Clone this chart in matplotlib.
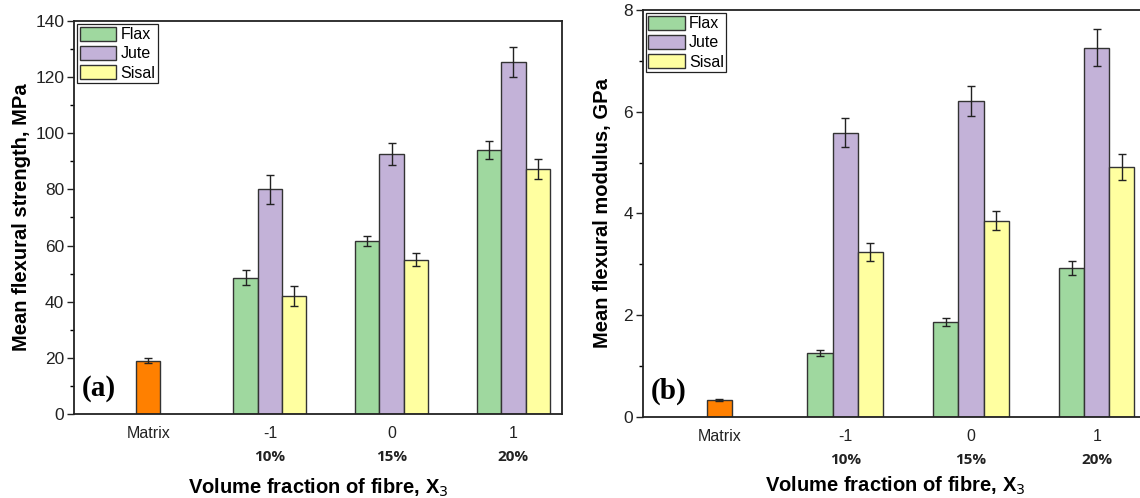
import matplotlib
matplotlib.use('Agg')
import matplotlib.pyplot as plt
from matplotlib import transforms
import numpy as np

plt.rcParams['font.family'] = ['Liberation Sans', 'DejaVu Sans']

# categories on the x axis
tick_labels = ['Matrix', '-1', '0', '1']
pct_labels = ['10%', '15%', '20%']
fibres = ['Flax', 'Jute', 'Sisal']
fibre_colors = ['#9FD89F', '#C3B2D8', '#FFFFA0']
matrix_color = '#FF8000'

# (a) flexural strength, MPa
strength_matrix = 19.0
strength_matrix_err = 1.0
strength_flax = [48.5, 61.6, 94.0]
strength_flax_err = [2.7, 1.7, 3.1]
strength_jute = [80.0, 92.7, 125.3]
strength_jute_err = [5.1, 3.9, 5.3]
strength_sisal = [42.0, 55.0, 87.3]
strength_sisal_err = [3.5, 2.4, 3.6]

# (b) flexural modulus, GPa
modulus_matrix = 0.33
modulus_matrix_err = 0.02
modulus_flax = [1.25, 1.87, 2.93]
modulus_flax_err = [0.06, 0.08, 0.14]
modulus_jute = [5.59, 6.21, 7.26]
modulus_jute_err = [0.28, 0.30, 0.36]
modulus_sisal = [3.24, 3.86, 4.91]
modulus_sisal_err = [0.17, 0.19, 0.25]

W = 0.2
err_kw = dict(ecolor='#222222', elinewidth=1.0, capsize=3, capthick=1.0)


def panel(ax, matrix, matrix_err, groups, group_errs, ymax, ymajor, yminor, ylabel, tag):
    ax.bar(0, matrix, W, yerr=matrix_err, color=matrix_color,
           edgecolor='#333333', linewidth=1.0, error_kw=err_kw, zorder=2)
    gx = np.arange(1, 4)
    for i, (vals, errs) in enumerate(zip(groups, group_errs)):
        ax.bar(gx + (i - 1) * W, vals, W, yerr=errs, color=fibre_colors[i],
               edgecolor='#333333', linewidth=1.0, error_kw=err_kw,
               label=fibres[i], zorder=2)

    ax.set_xlim(-0.61, 3.40)
    ax.set_ylim(0, ymax)
    ax.set_yticks(np.arange(0, ymax + ymajor / 2, ymajor))
    ax.set_yticks(np.arange(0, ymax + yminor / 2, yminor), minor=True)
    ax.set_xticks(range(4))
    ax.set_xticklabels(tick_labels)
    ax.tick_params(axis='x', length=0, pad=9, labelsize=11.5, colors='#222222')
    ax.tick_params(axis='y', which='major', direction='out', length=5,
                   width=1.0, labelsize=12.5, pad=2, colors='#222222')
    ax.tick_params(axis='y', which='minor', direction='out', length=3, width=1.0)
    for sp in ax.spines.values():
        sp.set_linewidth(1.3)
        sp.set_color('#222222')

    # second row of x labels: fibre volume fraction
    trans = transforms.blended_transform_factory(ax.transData, ax.transAxes)
    for x, t in zip(gx, pct_labels):
        ax.annotate(t, xy=(x, 0), xycoords=trans, xytext=(0, -31),
                    textcoords='offset points', ha='center', va='center',
                    fontsize=11, fontweight='bold', family='Open Sans',
                    color='#222222')

    ax.set_xlabel('Volume fraction of fibre, X$_3$', fontsize=14.5,
                  fontweight='bold')
    ax.set_ylabel(ylabel, fontsize=14.5, fontweight='bold')

    ax.text(0.016, 0.03, tag, transform=ax.transAxes, family='Liberation Serif',
            fontsize=21, fontweight='bold', ha='left', va='bottom')

    leg = ax.legend(loc='upper left', bbox_to_anchor=(0.0, 1.0), fontsize=11.5,
                    frameon=True, fancybox=False, framealpha=1, edgecolor='#222222',
                    handlelength=2.3, handleheight=1.05, labelspacing=0.2,
                    borderpad=0.15, handletextpad=0.25, borderaxespad=0.2)
    leg.get_frame().set_linewidth(0.9)


fig = plt.figure(figsize=(11.4, 4.98), dpi=100)
ax1 = fig.add_axes([0.0649, 0.1687, 0.4281, 0.7892])
ax2 = fig.add_axes([0.5638, 0.1627, 0.4424, 0.8173])

panel(ax1, strength_matrix, strength_matrix_err,
      [strength_flax, strength_jute, strength_sisal],
      [strength_flax_err, strength_jute_err, strength_sisal_err],
      140, 20, 10, 'Mean flexural strength, MPa', '(a)')
panel(ax2, modulus_matrix, modulus_matrix_err,
      [modulus_flax, modulus_jute, modulus_sisal],
      [modulus_flax_err, modulus_jute_err, modulus_sisal_err],
      8, 2, 1, 'Mean flexural modulus, GPa', '(b)')

ax1.xaxis.set_label_coords(0.5, -(477 - 414) / 393)
ax2.xaxis.set_label_coords(0.5, -(475 - 417) / 407)
ax1.yaxis.set_label_coords(-0.088, 0.5)
ax2.yaxis.set_label_coords(-0.06, 0.5)

fig.savefig('out.png', dpi=100, facecolor='white')
